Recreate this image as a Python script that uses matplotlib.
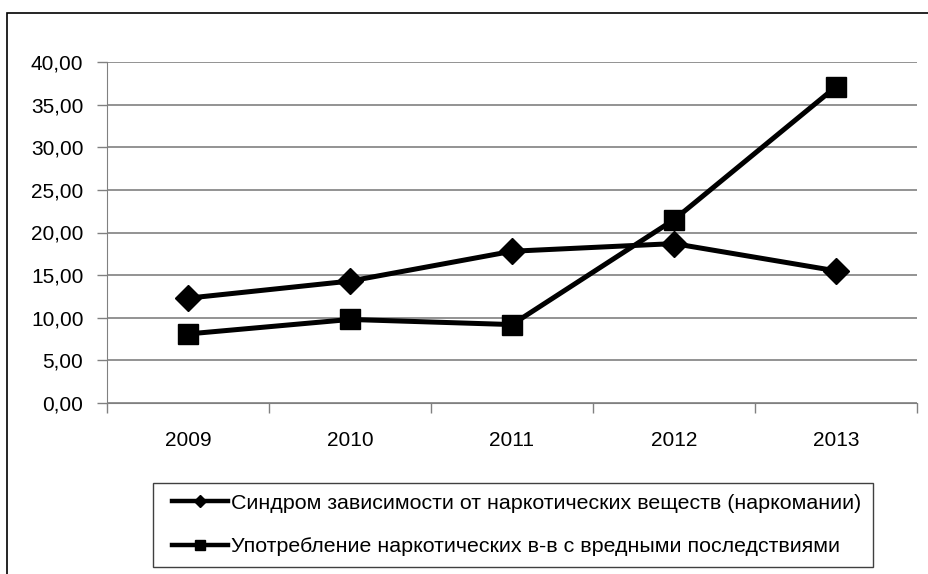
import matplotlib
matplotlib.use("Agg")
import matplotlib.pyplot as plt  # noqa: E402
from matplotlib.lines import Line2D  # noqa: E402
from matplotlib.patches import Rectangle  # noqa: E402
from matplotlib.ticker import FuncFormatter, FixedLocator  # noqa: E402

plt.rcParams["font.family"] = ["Liberation Sans", "DejaVu Sans"]

years = ["2009", "2010", "2011", "2012", "2013"]
dependence = [12.3, 14.3, 17.8, 18.7, 15.5]
harmful_use = [8.1, 9.8, 9.2, 21.5, 37.1]
labels = ["Синдром зависимости от наркотических веществ (наркомании)",
          "Употребление наркотических в-в с вредными последствиями"]

INK = "#000000"
GRID = "#808080"
FS = 15

W, H = 929, 574
fig = plt.figure(figsize=(W / 100, H / 100), dpi=100)
ax = fig.add_axes([107 / W, 1 - 403 / H, 810 / W, 341 / H])

x = list(range(len(years)))
ax.plot(x, dependence, color=INK, lw=3.6, marker="D", ms=13,
        solid_joinstyle="round", zorder=3)
ax.plot(x, harmful_use, color=INK, lw=3.6, marker="s", ms=14,
        solid_joinstyle="round", zorder=3)

ax.set_xlim(-0.5, len(years) - 0.5)
ax.set_ylim(0, 40)
ax.set_yticks(range(0, 41, 5))
ax.yaxis.set_major_formatter(FuncFormatter(lambda v, _: f"{v:.2f}".replace(".", ",")))
ax.set_xticks(x)
ax.set_xticklabels(years)
ax.xaxis.set_minor_locator(FixedLocator([i - 0.5 for i in range(len(years) + 1)]))
ax.tick_params(axis="x", which="major", length=0, pad=20, labelsize=FS)
ax.tick_params(axis="x", which="minor", length=7, width=1, color=GRID, direction="out")
ax.tick_params(axis="y", length=7, width=1, color=GRID, direction="out", pad=10,
               labelsize=FS)
ax.grid(axis="y", color=GRID, lw=1.2, zorder=0)
for sp in ("top", "right"):
    ax.spines[sp].set_visible(False)
ax.spines["left"].set_color(GRID)
ax.spines["bottom"].set_color(GRID)

# legend entries without frame; the frame is drawn separately (Excel box)
handles = [Line2D([], [], color=INK, lw=3.2, marker="D", ms=6),
           Line2D([], [], color=INK, lw=3.2, marker="s", ms=6.5)]
fig.legend(handles, labels, loc="center left",
           bbox_to_anchor=(172 / W, 1 - 525 / H), fontsize=15.4, frameon=False,
           handlelength=2.6, handletextpad=0.15, borderpad=0,
           borderaxespad=0, labelspacing=1.15)
fig.patches.append(Rectangle((153 / W, 1 - 567 / H), 720 / W, 84 / H,
                             transform=fig.transFigure, fill=False,
                             edgecolor="#404040", lw=1))

# outer chart-area border
fig.patches.append(Rectangle((7.5 / W, -0.1), 1.0, 1 - 13 / H + 0.1,
                             transform=fig.transFigure, fill=False,
                             edgecolor="#000000", lw=1.2))

fig.savefig("out.png", dpi=100, facecolor="white")
